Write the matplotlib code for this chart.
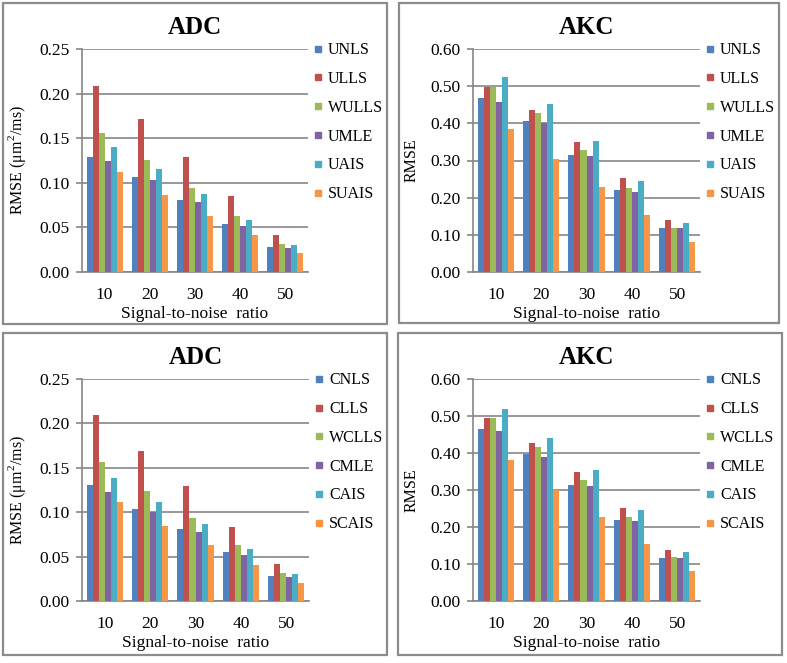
import numpy as np
import matplotlib
matplotlib.use("Agg")
import matplotlib.pyplot as plt
from matplotlib.patches import Rectangle
from matplotlib.lines import Line2D

plt.rcParams['font.family'] = ['Liberation Serif', 'DejaVu Serif']
plt.rcParams['mathtext.fontset'] = 'custom'
plt.rcParams['mathtext.rm'] = 'Liberation Serif'

snr = ['10', '20', '30', '40', '50']
colors = ['#4F81BD', '#C0504D', '#9BBB59', '#8064A2', '#4BACC6', '#F79646']

# top row: uncorrected estimators
u_methods = ['UNLS', 'ULLS', 'WULLS', 'UMLE', 'UAIS', 'SUAIS']
u_adc = [
    [0.129, 0.106, 0.081, 0.054, 0.028],
    [0.208, 0.172, 0.129, 0.085, 0.041],
    [0.156, 0.126, 0.094, 0.063, 0.031],
    [0.125, 0.103, 0.079, 0.052, 0.027],
    [0.140, 0.115, 0.087, 0.058, 0.030],
    [0.112, 0.086, 0.063, 0.041, 0.021],
]
u_akc = [
    [0.467, 0.407, 0.316, 0.220, 0.119],
    [0.498, 0.437, 0.349, 0.253, 0.141],
    [0.498, 0.427, 0.328, 0.225, 0.119],
    [0.457, 0.401, 0.313, 0.216, 0.119],
    [0.525, 0.452, 0.352, 0.245, 0.131],
    [0.386, 0.305, 0.229, 0.154, 0.080],
]

# bottom row: corrected estimators
c_methods = ['CNLS', 'CLLS', 'WCLLS', 'CMLE', 'CAIS', 'SCAIS']
c_adc = [
    [0.131, 0.104, 0.081, 0.055, 0.028],
    [0.210, 0.169, 0.129, 0.083, 0.042],
    [0.156, 0.124, 0.094, 0.063, 0.031],
    [0.123, 0.100, 0.078, 0.052, 0.027],
    [0.138, 0.111, 0.087, 0.058, 0.030],
    [0.111, 0.084, 0.063, 0.040, 0.020],
]
c_akc = [
    [0.466, 0.398, 0.314, 0.220, 0.116],
    [0.494, 0.426, 0.348, 0.251, 0.138],
    [0.494, 0.417, 0.327, 0.227, 0.118],
    [0.460, 0.388, 0.310, 0.217, 0.116],
    [0.518, 0.441, 0.355, 0.246, 0.132],
    [0.380, 0.301, 0.227, 0.154, 0.080],
]

W, H = 787, 663
fig = plt.figure(figsize=(W / 100, H / 100), dpi=100)
grid_col = '#868686'


def px_rect(l, t, r, b):
    return [l / W, 1 - b / H, (r - l) / W, (b - t) / H]


def draw_panel(box, axpos, title, ylabel, ymax, methods, data):
    # panel frame
    l, t, r, b = box
    fig.patches.append(Rectangle((l / W, 1 - b / H), (r - l) / W, (b - t) / H,
                                 transform=fig.transFigure, fill=False,
                                 edgecolor='#8c8c8c', linewidth=1.6))
    ax = fig.add_axes(px_rect(*axpos))
    x = np.arange(len(snr))
    bw = 0.8 / len(methods)
    for i, (m, vals) in enumerate(zip(methods, data)):
        ax.bar(x - 0.4 + bw * (i + 0.5), vals, bw, color=colors[i], label=m, zorder=3)
    ax.set_xlim(-0.5, len(snr) - 0.5)
    ax.set_ylim(0, ymax)
    yt = np.linspace(0, ymax, 6) if ymax < 0.3 else np.linspace(0, ymax, 7)
    ax.set_yticks(yt)
    ax.set_yticklabels(['%.2f' % v for v in yt], fontsize=12.5)
    ax.set_xticks(x)
    ax.set_xticklabels(snr, fontsize=12.5)
    ax.grid(axis='y', color=grid_col, linewidth=1.2, zorder=0)
    for s in ['top', 'right']:
        ax.spines[s].set_visible(False)
    for s in ['left', 'bottom']:
        ax.spines[s].set_color(grid_col)
        ax.spines[s].set_linewidth(1.2)
    ax.tick_params(axis='x', length=0, pad=11)
    ax.tick_params(axis='y', length=4, color=grid_col, width=1.2, pad=5)
    ax.set_xlabel('Signal-to-noise  ratio', fontsize=12.5, labelpad=2)
    ax.set_ylabel(ylabel, fontsize=11.5, labelpad=8)
    ax.set_title(title, fontsize=18, fontweight='bold', pad=11)
    handles = [Line2D([], [], linestyle='none', marker='s', markersize=5,
                      markerfacecolor=c, markeredgecolor=c) for c in colors]
    ax.legend(handles, methods, loc='upper left', bbox_to_anchor=(1.025, 1.03),
              frameon=False, fontsize=11.5, labelspacing=0.8, handlelength=0.6,
              handletextpad=0.3, borderpad=0, borderaxespad=0)
    return ax


adc_label = 'RMSE (μm$^2$/ms)'
draw_panel((3, 3, 387, 324), (82, 49, 308, 272), 'ADC', adc_label, 0.25, u_methods, u_adc)
draw_panel((399, 3, 779, 323), (473, 49, 700, 272), 'AKC', 'RMSE', 0.60, u_methods, u_akc)
draw_panel((3, 333, 387, 655), (82, 379, 309, 601), 'ADC', adc_label, 0.25, c_methods, c_adc)
draw_panel((398, 333, 782, 655), (473, 379, 700, 601), 'AKC', 'RMSE', 0.60, c_methods, c_akc)

fig.savefig('out.png', dpi=100)
